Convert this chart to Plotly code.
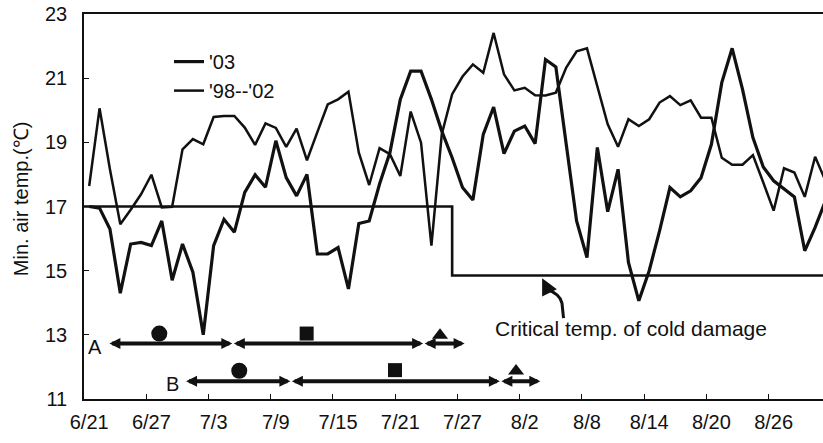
import plotly.graph_objects as go

# Daily minimum air temperature, 6/21 .. 8/31 (one value per day)
days = list(range(72))
temp_03 = [
    17.00, 16.95, 16.30, 14.30, 15.83, 15.88, 15.78, 16.55, 14.70, 15.83,
    14.95, 13.00, 15.78, 16.60, 16.20, 17.44, 17.99, 17.60, 19.05, 17.90,
    17.33, 18.00, 15.52, 15.52, 15.72, 14.43, 16.47, 16.55, 17.70, 18.68,
    20.34, 21.22, 21.22, 20.34, 19.35, 18.52, 17.59, 17.20, 19.25, 20.10,
    18.65, 19.35, 19.51, 18.96, 21.58, 21.35, 18.94, 16.55, 15.41, 18.84,
    16.84, 18.16, 15.26, 14.06, 15.00, 16.24, 17.59, 17.30, 17.49, 17.90,
    18.94, 20.86, 21.93, 20.65, 19.15, 18.23, 17.80, 17.54, 17.30, 15.62,
    16.35, 17.18,
]
temp_98_02 = [
    17.64, 20.06, 18.16, 16.45, 16.90, 17.38, 17.99, 16.97, 16.99, 18.78,
    19.10, 18.94, 19.79, 19.82, 19.82, 19.46, 18.92, 19.59, 19.45, 18.86,
    19.43, 18.44, 19.32, 20.18, 20.34, 20.58, 18.68, 17.67, 18.82, 18.63,
    17.95, 19.96, 18.99, 15.78, 19.25, 20.50, 21.05, 21.43, 21.17, 22.41,
    21.12, 20.62, 20.70, 20.47, 20.46, 20.55, 21.33, 21.84, 21.93, 20.70,
    19.56, 18.86, 19.72, 19.51, 19.72, 20.24, 20.44, 20.16, 20.31, 19.77,
    19.77, 18.52, 18.30, 18.30, 18.60, 17.75, 16.87, 18.19, 18.06, 17.30,
    18.55, 17.80,
]

# Critical temperature of cold damage (step change on 7/26)
crit_x = [-0.5, 35, 35, 71.5]
crit_y = [17.0, 17.0, 14.85, 14.85]

# Date axis labels (every 6 days)
tick_pos = list(range(0, 72, 6))
tick_text = ["6/21", "6/27", "7/3", "7/9", "7/15", "7/21",
             "7/27", "8/2", "8/8", "8/14", "8/20", "8/26"]
y_ticks = [11, 13, 15, 17, 19, 21, 23]

# Growth-stage periods for the two plantings (boundaries in days from 6/21)
period_names = ["A", "B"]
period_level = [12.73, 11.55]
period_bounds = [[1.8, 13.8, 32.2, 36.2],
                 [9.2, 19.4, 39.6, 43.5]]
stage_symbols = ["circle", "square", "triangle-up"]
stage_x = [[6.76, 20.97, 33.83],
           [14.47, 29.49, 41.16]]
stage_y = [[13.04, 13.04, 12.99],
           [11.88, 11.90, 11.87]]

FONT = "Arial, Liberation Sans, sans-serif"
X_MAX = 70.76

fig = go.Figure()

fig.add_trace(go.Scatter(
    x=crit_x, y=crit_y, mode="lines", showlegend=False,
    line=dict(color="#111", width=2.6), hoverinfo="skip"))

fig.add_trace(go.Scatter(
    x=days, y=temp_03, mode="lines", name="'03",
    line=dict(color="#111", width=3.2)))
fig.add_trace(go.Scatter(
    x=days, y=temp_98_02, mode="lines", name="'98--'02",
    line=dict(color="#111", width=2.5)))

# stage markers
for xs, ys in zip(stage_x, stage_y):
    fig.add_trace(go.Scatter(
        x=xs, y=ys, mode="markers", showlegend=False,
        marker=dict(symbol=stage_symbols, color="#111", opacity=1,
                    size=[16, 14, 14], line=dict(width=0))))

# invisible trace holding the tick-mark axis
fig.add_trace(go.Scatter(x=[0], y=[11], xaxis="x2", mode="markers",
                         marker=dict(opacity=0), showlegend=False,
                         hoverinfo="skip"))

annotations = []
# double-headed period arrows
for name, lvl, bounds in zip(period_names, period_level, period_bounds):
    for a, b in zip(bounds[:-1], bounds[1:]):
        annotations.append(dict(
            x=b, y=lvl, ax=a, ay=lvl, xref="x", yref="y",
            axref="x", ayref="y", text="", showarrow=True,
            arrowside="end+start", arrowhead=2, arrowsize=0.55,
            arrowwidth=4, arrowcolor="#111", standoff=0, startstandoff=0))
    annotations.append(dict(
        x=bounds[0], y=lvl, xref="x", yref="y", text=name,
        showarrow=False, xanchor="right", yanchor="middle",
        xshift=-4, yshift=-3, font=dict(family=FONT, size=20, color="#111")))

# critical temperature label with curved pointer
annotations.append(dict(
    x=38.9, y=13.21, xref="x", yref="y", text="Critical temp. of cold damage",
    showarrow=False, xanchor="left", yanchor="middle",
    font=dict(family=FONT, size=21, color="#111")))
annotations.append(dict(
    x=43.55, y=crit_y[-1], xref="x", yref="y", ax=44.24, ay=14.40,
    axref="x", ayref="y", text="", showarrow=True, arrowhead=2,
    arrowsize=1.1, arrowwidth=3, arrowcolor="#111", standoff=3))

# y-axis title
annotations.append(dict(
    x=-0.0853, y=0.519, xref="paper", yref="paper",
    text="Min. air temp.(\u2103)", textangle=-90, showarrow=False,
    xanchor="center", yanchor="middle",
    font=dict(family=FONT, size=20, color="#111")))

shapes = [dict(
    type="path", xref="x", yref="y",
    path="M 44.24,14.40 Q 45.40,14.27 45.59,13.99 L 45.74,13.52",
    line=dict(color="#111", width=3))]

fig.update_layout(
    width=823, height=443,
    margin=dict(l=84, r=0, t=14, b=44),
    paper_bgcolor="white", plot_bgcolor="white",
    font=dict(family=FONT, size=20, color="#111"),
    showlegend=True,
    legend=dict(x=0.115, y=0.927, xanchor="left", yanchor="top",
                bgcolor="rgba(0,0,0,0)", font=dict(size=20),
                itemwidth=30, tracegroupgap=0),
    xaxis=dict(range=[-0.5, X_MAX], tickvals=tick_pos, ticktext=tick_text,
               ticks="", showgrid=False, zeroline=False,
               showline=True, linecolor="#111", linewidth=1.5,
               mirror=True, ticklabelstandoff=4,
               tickfont=dict(family=FONT, size=20, color="#111")),
    xaxis2=dict(range=[-0.5, X_MAX], overlaying="x", anchor="y",
                side="bottom", tickvals=[p - 0.5 for p in tick_pos[1:]],
                ticks="inside", ticklen=5, tickwidth=1, tickcolor="#111",
                showticklabels=False, showgrid=False, zeroline=False,
                showline=False),
    yaxis=dict(range=[11, 23], tickvals=y_ticks, ticks="inside",
               ticklen=5, tickwidth=1, tickcolor="#111",
               showgrid=False, zeroline=False, showline=True,
               linecolor="#111", linewidth=1.5, ticklabelstandoff=11,
               tickfont=dict(family=FONT, size=20, color="#111")),
    annotations=annotations,
    shapes=shapes,
)

fig.write_html("out.html")
